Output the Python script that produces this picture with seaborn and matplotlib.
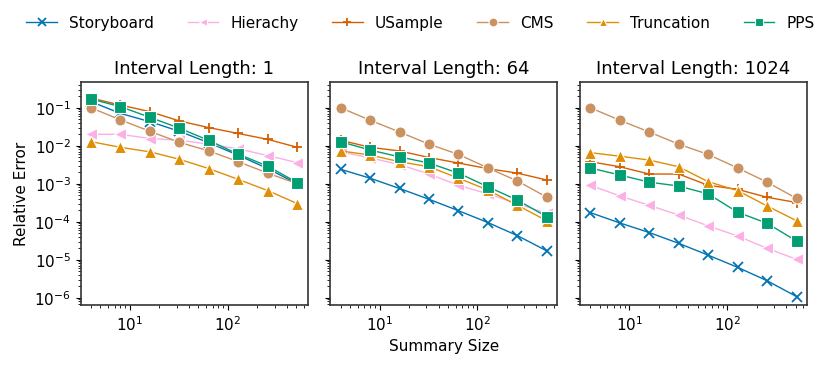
import numpy as np
import pandas as pd
import matplotlib.pyplot as plt
import seaborn as sns

# summary sizes shared by all panels
sizes = [4, 8, 16, 32, 64, 128, 256, 512]
methods = ['Storyboard', 'Hierachy', 'USample', 'CMS', 'Truncation', 'PPS']
intervals = [1, 64, 1024]

# relative error per method
err_1 = {
    'Storyboard': [0.145, 0.071, 0.043, 0.024, 0.012, 0.0056, 0.0025, 0.0010],
    'Hierachy':   [0.020, 0.020, 0.0155, 0.014, 0.011, 0.0083, 0.0055, 0.0036],
    'USample':    [0.18, 0.118, 0.079, 0.045, 0.030, 0.021, 0.0147, 0.0091],
    'CMS':        [0.10, 0.048, 0.024, 0.0123, 0.0073, 0.0038, 0.0019, 0.0010],
    'Truncation': [0.0128, 0.0091, 0.0069, 0.0044, 0.0025, 0.0013, 0.00066, 0.0003],
    'PPS':        [0.17, 0.107, 0.056, 0.029, 0.0138, 0.006, 0.0029, 0.00107],
}
err_64 = {
    'Storyboard': [0.0024, 0.0014, 0.00075, 0.00039, 0.000195, 0.000095, 0.000043, 0.000017],
    'Hierachy':   [0.0069, 0.0048, 0.0032, 0.0018, 0.00091, 0.00054, 0.0003, 0.000165],
    'USample':    [0.014, 0.0091, 0.0073, 0.0049, 0.0035, 0.0025, 0.0019, 0.00125],
    'CMS':        [0.10, 0.047, 0.023, 0.011, 0.0059, 0.0026, 0.00118, 0.00044],
    'Truncation': [0.0073, 0.0057, 0.0038, 0.0028, 0.0014, 0.00068, 0.00027, 0.000106],
    'PPS':        [0.0128, 0.0077, 0.0051, 0.0035, 0.0019, 0.00083, 0.00037, 0.000135],
}
err_1024 = {
    'Storyboard': [0.000174, 0.000093, 0.000052, 0.000027, 0.0000132, 0.0000063, 0.0000028, 0.00000107],
    'Hierachy':   [0.00091, 0.00048, 0.00027, 0.00015, 0.000078, 0.000042, 0.00002, 0.0000102],
    'USample':    [0.0038, 0.0028, 0.0018, 0.0018, 0.00091, 0.00071, 0.00044, 0.00032],
    'CMS':        [0.10, 0.047, 0.023, 0.011, 0.0059, 0.0026, 0.0011, 0.00041],
    'Truncation': [0.0066, 0.0053, 0.0042, 0.0028, 0.00113, 0.00066, 0.00026, 0.000106],
    'PPS':        [0.0026, 0.0017, 0.0011, 0.00087, 0.00054, 0.000178, 0.000091, 0.000031],
}

rows = []
for L, err in zip(intervals, [err_1, err_64, err_1024]):
    for m in methods:
        for s, v in zip(sizes, err[m]):
            rows.append({'Interval': L, 'Method': m, 'Size': s, 'Error': v})
df = pd.DataFrame(rows)

cb = sns.color_palette('colorblind')
palette = {'Storyboard': cb[0], 'Hierachy': cb[6], 'USample': cb[3],
           'CMS': cb[5], 'Truncation': cb[1], 'PPS': cb[2]}
markers = {'Storyboard': 'x', 'Hierachy': '<', 'USample': '+',
           'CMS': 'o', 'Truncation': '^', 'PPS': 's'}

plt.rcParams['axes.linewidth'] = 1.2
plt.rcParams['axes.edgecolor'] = '#333333'

fig, axes = plt.subplots(1, 3, figsize=(8.31, 3.67), dpi=100, sharey=True)
for ax, L in zip(axes, intervals):
    sub = df[df['Interval'] == L]
    for m in methods:
        line_art = markers[m] in ('x', '+')
        sns.lineplot(data=sub[sub['Method'] == m], x='Size', y='Error',
                     color=palette[m], marker=markers[m],
                     markersize=7 if line_art else 8,
                     markeredgewidth=1.3 if line_art else 0.8,
                     markeredgecolor=palette[m] if line_art else 'w',
                     linewidth=1, label=m, ax=ax)
    ax.set_xscale('log')
    ax.set_yscale('log')
    ax.set_title(f'Interval Length: {L}', fontsize=13)
    ax.set_xlabel('')
    ax.set_ylabel('')
    ax.tick_params(labelsize=11)
    if ax.get_legend() is not None:
        ax.get_legend().remove()

axes[0].set_ylim(6.3e-7, 0.47)
axes[0].set_ylabel('Relative Error', fontsize=11)
axes[1].set_xlabel('Summary Size', fontsize=11)

handles, labels = axes[0].get_legend_handles_labels()
fig.legend(handles, labels, loc='upper center', ncol=6, frameon=False,
           fontsize=11, bbox_to_anchor=(0.506, 0.995), columnspacing=2.2,
           handletextpad=0.8, markerscale=0.8)

fig.subplots_adjust(left=0.097, right=0.971, top=0.776, bottom=0.168, wspace=0.1)
fig.savefig('out.png')
